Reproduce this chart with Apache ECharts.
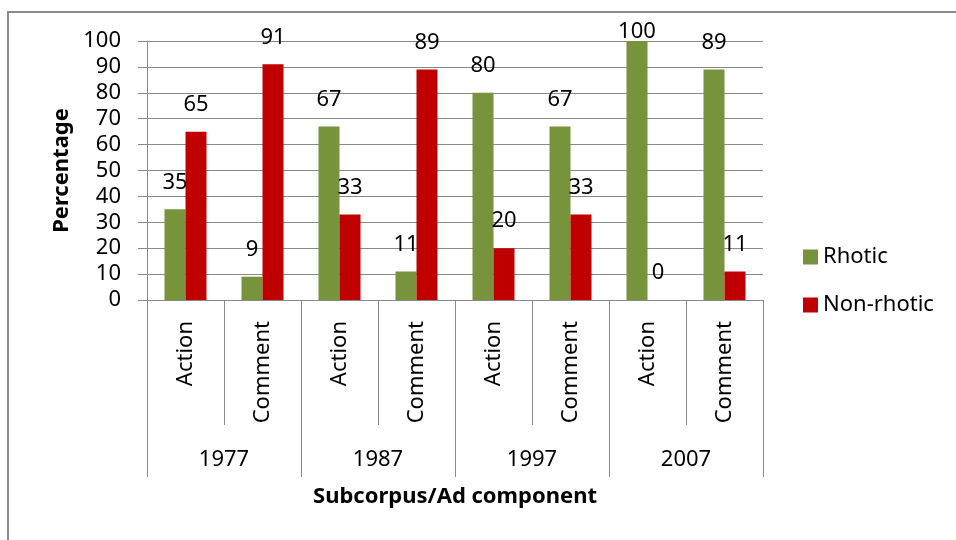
<!DOCTYPE html>
<html>
<head>
<meta charset="utf-8">
<title>Rhotic vs non-rhotic</title>
<script src="https://cdn.jsdelivr.net/npm/echarts@6/dist/echarts.min.js"></script>
<style>
  html, body { margin: 0; padding: 0; background: #fff; }
  #chart { width: 956px; height: 540px; }
</style>
</head>
<body>
<div id="chart"></div>
<script>
// data
const years = ['1977', '1987', '1997', '2007'];
const components = ['Action', 'Comment'];
const rhotic = [35, 9, 67, 11, 80, 67, 100, 89];
const nonRhotic = [65, 91, 33, 89, 20, 33, 0, 11];
const yTicks = { min: 0, max: 100, step: 10 };

const grey = '#898989';
const font = 'Noto Sans';

// inner categories: one per year x component, keyed so names stay unique
let inner = [];
years.forEach(y => components.forEach(c => inner.push(y + '|' + c)));

// label of a full bar sits lower, like in the original
function barData(values) {
  return values.map(v => {
    if (v === yTicks.max) return { value: v, label: { distance: -2 } };
    return v;
  });
}

let chart = echarts.init(document.getElementById('chart'));

let option = {
  animation: false,
  backgroundColor: '#fff',
  textStyle: { fontFamily: font },
  grid: { left: 147, right: 193, top: 41, bottom: 240, containLabel: false },
  legend: {
    orient: 'vertical',
    left: 803,
    top: 246,
    padding: 0,
    itemWidth: 15,
    itemHeight: 15,
    itemGap: 26,
    icon: 'rect',
    textStyle: { fontFamily: font, fontSize: 22, color: '#000', lineHeight: 22 },
    data: ['Rhotic', 'Non-rhotic'],
  },
  xAxis: [
    {
      type: 'category',
      data: inner,
      position: 'bottom',
      axisLine: { show: true, lineStyle: { color: grey, width: 1 } },
      axisTick: { show: true, length: 125, lineStyle: { color: grey, width: 1 } },
      axisLabel: {
        rotate: 90,
        margin: 21,
        fontFamily: font,
        fontSize: 22,
        color: '#000',
        formatter: v => v.split('|')[1],
      },
      splitLine: { show: false },
    },
    {
      type: 'category',
      data: years,
      position: 'bottom',
      axisLine: { show: false },
      axisTick: { show: true, length: 177, lineStyle: { color: grey, width: 1 } },
      axisLabel: { margin: 149, fontFamily: font, fontSize: 22, color: '#000' },
      splitLine: { show: false },
      name: 'Subcorpus/Ad component',
      nameLocation: 'middle',
      nameGap: 186,
      nameTextStyle: { fontFamily: font, fontSize: 22, fontWeight: 'bold', color: '#000' },
    },
  ],
  yAxis: {
    type: 'value',
    min: yTicks.min,
    max: yTicks.max,
    interval: yTicks.step,
    axisLine: { show: true, lineStyle: { color: grey, width: 1 } },
    axisTick: { show: true, length: 9, lineStyle: { color: grey } },
    axisLabel: { margin: 26, fontFamily: font, fontSize: 22, color: '#000' },
    splitLine: { show: true, lineStyle: { color: grey, width: 1 } },
    name: 'Percentage',
    nameLocation: 'middle',
    nameRotate: 90,
    nameGap: 74,
    nameTextStyle: { fontFamily: font, fontSize: 22, fontWeight: 'bold', color: '#000' },
  },
  series: [
    {
      name: 'Rhotic',
      type: 'bar',
      xAxisIndex: 0,
      data: barData(rhotic),
      barWidth: 21,
      barGap: '0%',
      itemStyle: { color: '#77933C' },
      label: { show: true, position: 'top', distance: 16, fontFamily: font, fontSize: 22, color: '#000' },
    },
    {
      name: 'Non-rhotic',
      type: 'bar',
      xAxisIndex: 0,
      data: barData(nonRhotic),
      barWidth: 21,
      barGap: '0%',
      itemStyle: { color: '#C00000' },
      label: { show: true, position: 'top', distance: 16, fontFamily: font, fontSize: 22, color: '#000' },
    },
  ],
  // outer frame of the chart area, runs off the right and bottom edges
  graphic: [
    {
      type: 'rect',
      shape: { x: 8, y: 12, width: 1000, height: 600 },
      style: { fill: 'none', stroke: grey, lineWidth: 2 },
      silent: true,
    },
  ],
};

chart.setOption(option);
</script>
</body>
</html>
